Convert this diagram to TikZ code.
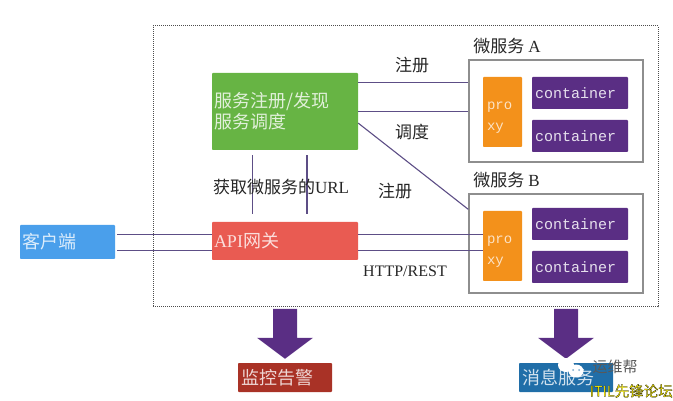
\documentclass[tikz,border=0pt]{standalone}
\usepackage{fontspec}
\setmainfont{Noto Sans CJK SC}
\newfontfamily\latinfont{Liberation Serif}
\newfontfamily\codefont{Liberation Mono}
\usetikzlibrary{ positioning, calc }
\definecolor{registrygreen}{HTML}{67B444}
\definecolor{gatewayred}{HTML}{E95B52}
\definecolor{clientblue}{HTML}{4A9FEB}
\definecolor{proxyorange}{HTML}{F3911B}
\definecolor{boxpurple}{HTML}{5A2E84}
\definecolor{linkpurple}{HTML}{5D4E86}
\definecolor{alertred}{HTML}{A93226}
\definecolor{queueblue}{HTML}{206EA8}
\definecolor{framegray}{HTML}{8E8E8E}
\tikzset{
  block/.style={minimum width=#1, inner sep=0pt, rounded corners=0.8pt, text=white, font=\fontsize{18}{21}\selectfont},
  link/.style={linkpurple, line width=1.1pt},
  caption/.style={inner sep=0pt, font=\fontsize{17}{20}\selectfont, text=black!85},
  service/.style={draw=framegray, line width=1.5pt, fill=white, minimum width=174pt, minimum height=102pt, inner sep=0pt},
  proxybox/.style={block=39pt, fill=proxyorange, minimum height=70pt, text=white!75!proxyorange, text width=31pt, inner xsep=4pt, align=left, font=\codefont\fontsize{14}{21}\selectfont, execute at begin node=\rule{0pt}{18pt}},
  containerbox/.style={block=96pt, fill=boxpurple, minimum height=32pt, text=white!85!boxpurple, text width=90pt, align=left, font=\codefont\fontsize{15}{18}\selectfont}
}
\begin{document}
\begin{tikzpicture}[x=1pt, y=-1pt]
  \useasboundingbox (0,0) rectangle (673,401);

  % outer frame
  \node[draw=black!70, densely dotted, line width=1pt, minimum width=505pt, minimum height=281pt, inner sep=0pt] (frame) at (405.5,166.5) {};

  % left side
  \node[block=146pt, fill=registrygreen, minimum height=77pt, text=white!80!registrygreen, text width=141pt, align=left] (registry) at (285,111.5) {服务注册/发现\\服务调度};
  \node[block=146pt, fill=gatewayred, minimum height=38pt, text=white!80!gatewayred, text width=142pt, align=left] (gateway) at (285,241) {{\latinfont API}网关};
  \node[block=95pt, fill=clientblue, minimum height=34pt, text=white!80!clientblue, text width=90pt, align=left] (client) at (67.5,242) {客户端};

  % service A
  \node[service] (serviceA) at (556,111) {};
  \node[proxybox] (proxyA) at (502.5,112) {pro\\xy};
  \node[containerbox] (containerA1) at (580,93) {container};
  \node[containerbox] (containerA2) at (580,136) {container};
  \node[caption, above right=5pt and 5pt of serviceA.north west, anchor=south west] (labelA) {微服务 {\latinfont A}};

  % service B
  \node[service, minimum height=99pt] (serviceB) at (556,243.5) {};
  \node[proxybox] (proxyB) at (502.5,246) {pro\\xy};
  \node[containerbox] (containerB1) at (580,224) {container};
  \node[containerbox] (containerB2) at (580,267) {container};
  \node[caption, above right=5pt and 5pt of serviceB.north west, anchor=south west] (labelB) {微服务 {\latinfont B}};

  % connectors
  \coordinate (registryTop) at ($(registry.north east)!0.13!(registry.south east)$);
  \coordinate (gatewayTop) at ($(gateway.north east)!0.33!(gateway.south east)$);
  \coordinate (gatewayLow) at ($(gateway.north east)!0.74!(gateway.south east)$);
  \draw[link] (registryTop) -- (serviceA.west |- registryTop);
  \draw[link] (registry.east) -- (serviceA.west |- registry.east);
  \draw[link] ($(registry.north east)!0.65!(registry.south east)$) -- ($(serviceB.north west)!0.16!(serviceB.south west)$);
  \draw[link, shorten <=5pt, shorten >=8pt] ($(registry.south west)!0.275!(registry.south east)$) -- ($(gateway.north west)!0.275!(gateway.north east)$);
  \draw[link, shorten <=5pt, shorten >=8pt] ($(registry.south west)!0.65!(registry.south east)$) -- ($(gateway.north west)!0.65!(gateway.north east)$);
  \draw[link, shorten <=2pt] (client.east |- gatewayTop) -- (gateway.west |- gatewayTop);
  \draw[link, shorten <=2pt] (client.east |- gatewayLow) -- (gateway.west |- gatewayLow);
  \draw[link] (gatewayTop) -- (proxyB.west |- gatewayTop);
  \draw[link] (gatewayLow) -- (proxyB.west |- gatewayLow);

  % connector labels
  \node[caption] (registerA) at (412,65) {注册};
  \node[caption] (dispatch) at (412,132) {调度};
  \node[caption] (registerB) at (395,191) {注册};
  \node[caption] (fetchurl) at (281,187) {获取微服务的{\latinfont URL}};
  \node[caption, font=\fontsize{16}{18}\selectfont] (protocol) at (405,271) {\latinfont HTTP/REST};

  % bottom row
  \node[block=94pt, fill=alertred, minimum height=29pt, text=white!80!alertred, text width=88pt, align=left] (alert) at (285,377.5) {监控告警};
  \node[block=94pt, fill=queueblue, minimum height=29pt, text=white!80!queueblue, text width=88pt, align=left] (queue) at (566,377.5) {消息服务};
  \foreach \target in {alert,queue}
    \fill[boxpurple] (\target.north) ++(-12,-54) -- ++(24,0) -- ++(0,29) -- ++(16,0) -- ++(-28,21) -- ++(-28,-21) -- ++(16,0) -- cycle;

  % watermark
  \fill[white] (566,365) ellipse (8pt and 7pt);
  \fill[white] (576,371) ellipse (7.5pt and 6.5pt);
  \foreach \eye in {573,579}
    \fill[queueblue!60] (\eye,370) circle (1pt);
  \node[inner sep=0pt, font=\fontsize{15}{16}\selectfont, text=black!65] (mark) at (615,367) {运维帮};
  \node[inner sep=0pt, anchor=east, font=\fontsize{14.5}{16}\selectfont, text=yellow] (forum) at (673,391) {\special{pdf:code 2 Tr 0.2 w 0 G}ITIL先锋论坛\special{pdf:code 0 Tr}};
\end{tikzpicture}
\end{document}
